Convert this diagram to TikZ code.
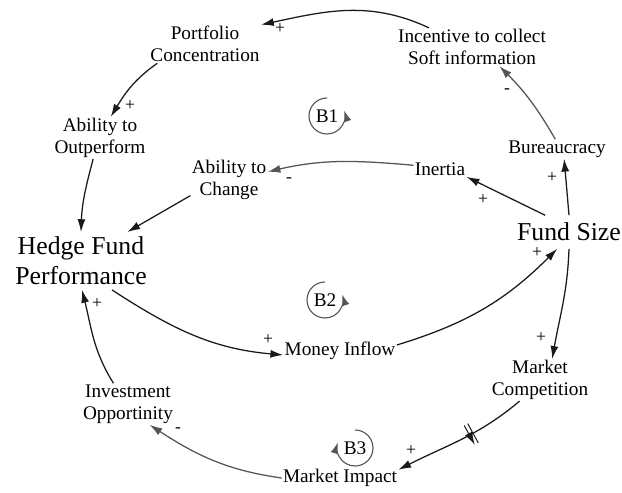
\documentclass[tikz,border=0pt]{standalone}
\usepackage{fontspec}
\setmainfont{Liberation Serif}
\usepackage{tikz}
\usetikzlibrary{arrows.meta,decorations.markings}
\definecolor{inkblack}{HTML}{1A1A1A}
\definecolor{linkgray}{HTML}{555555}
\tikzset{
  varnode/.style={
    inner sep=1pt, outer sep=0pt, align=center,
    font=\fontsize{13.7}{15.6}\selectfont
  },
  bignode/.style={
    inner xsep=1pt, inner ysep=3.5pt, outer sep=0pt, align=center,
    font=\fontsize{18.3}{21.3}\selectfont
  },
  linkarrow/.style={-{Latex[length=3.2mm,width=2mm]}, line width=0.9pt, color=inkblack},
  weakarrow/.style={linkarrow, color=linkgray},
  polarity/.style={inner sep=0pt, font=\fontsize{12.5}{13}\selectfont},
  loopnode/.style={
    circle, minimum size=0.9cm, inner sep=0pt, outer sep=0pt,
    font=\fontsize{13.7}{15.6}\selectfont
  },
  loopline/.style={-{Latex[length=2.8mm,width=1.9mm]}, line width=0.8pt, color=linkgray},
  delayed/.style={postaction={decorate}, decoration={markings,
    mark=at position 0.42 with {\draw[line width=0.7pt] (-2,-11) -- (-2,11) (2,-11) -- (2,11);}}},
}
\begin{document}
\begin{tikzpicture}[x=0.025cm, y=0.025cm]
  \useasboundingbox (0,0) rectangle (622,492);
  % variables
  \node[varnode] (pc) at (205,448) {Portfolio\\Concentration};
  \node[varnode] (ics) at (472,445) {Incentive to collect\\Soft information};
  \node[varnode] (ao) at (100,354) {Ability to\\Outperform};
  \node[varnode] (ac) at (229,312) {Ability to\\Change};
  \node[varnode] (ine) at (440,323) {Inertia};
  \node[varnode] (bur) at (557,343) {Bureaucracy};
  \node[bignode] (hfp) at (81,231) {Hedge Fund\\Performance};
  \node[bignode, inner ysep=5.5pt] (fs) at (569,260) {Fund Size};
  \node[varnode] (mi) at (340,141) {Money Inflow};
  \node[varnode] (io) at (128,88) {Investment\\Opportinity};
  \node[varnode] (mc) at (540,112) {Market\\Competition};
  \node[varnode] (mim) at (340,14) {Market Impact};
  % loop markers
  \node[loopnode] (b1) at (327,376) {B1};
  \node[loopnode] (b2) at (325,192) {B2};
  \node[loopnode] (b3) at (355,44) {B3};
  \draw[loopline] (b1.90) arc[start angle=90, end angle=378, radius=0.45cm];
  \draw[loopline] (b2.90) arc[start angle=90, end angle=378, radius=0.45cm];
  \draw[loopline] (b3.90) arc[start angle=90, end angle=-198, radius=0.45cm];
  % links
  \foreach \a/\b/\o/\i in {ics.156/pc.north east/155/12, pc.202/ao.63/215/59,
      ao.252/hfp.north/255/88, hfp.-43/mi.184/-33/175, mi.6/fs.235/17/225,
      fs.south/mc.60/268/80, io.125/hfp.-88/122/-76}
    \draw[linkarrow] (\a) to[out=\o,in=\i] (\b);
  \draw[linkarrow] (ac.202) -- (hfp.32);
  \draw[linkarrow] (fs.145) -- (ine.south east);
  \draw[linkarrow] (fs.north) -- (bur.-54);
  \draw[linkarrow, delayed] (mc.226) to[out=220,in=27] (mim.8);
  \foreach \a/\b/\o/\i in {ine.172/ac.12/175/13, bur.100/ics.-35/120/-45,
      mim.west/io.-44/172/-33}
    \draw[weakarrow] (\a) to[out=\o,in=\i] (\b);
  % polarities
  \foreach \n/\p/\s in {1/{280,463}/+, 2/{130,386}/+, 3/{289,312}/-, 4/{483,292}/+,
      5/{552,314}/+, 6/{507,401}/-, 7/{268,152}/+, 8/{537,239}/+,
      9/{541,154}/+, 10/{411,41}/+, 11/{178,62}/-, 12/{97,188}/+}
    \node[polarity] (s\n) at (\p) {\s};
\end{tikzpicture}
\end{document}
